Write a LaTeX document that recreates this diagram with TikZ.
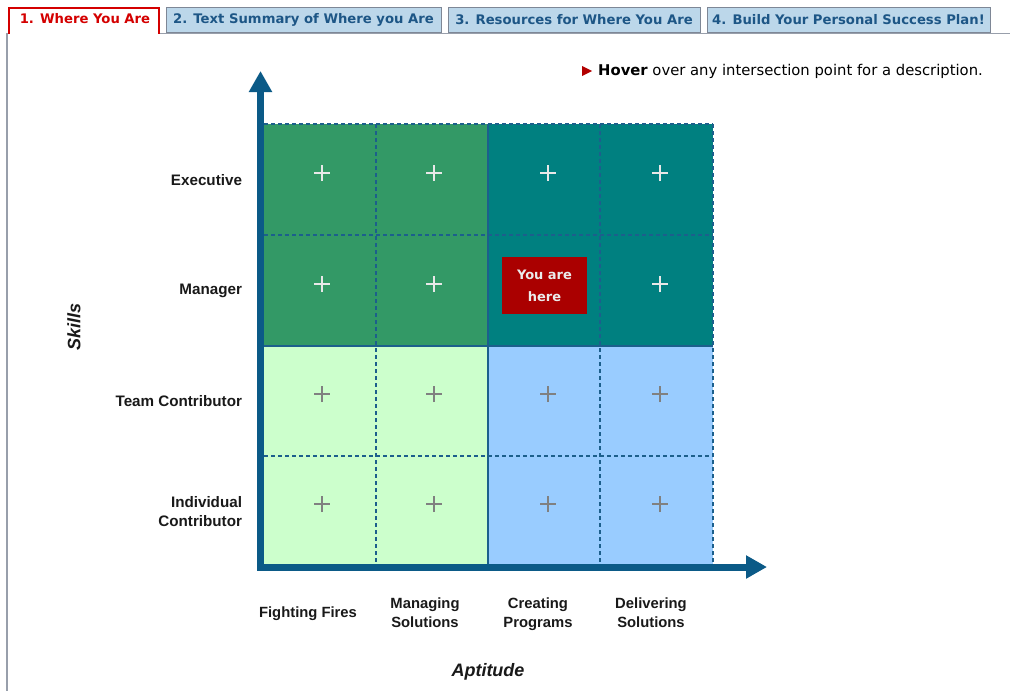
\documentclass[tikz,border=0pt]{standalone}
\usepackage{fontspec}
\setmainfont{Liberation Sans}
\newfontfamily\verd{DejaVu Sans}
\usetikzlibrary{arrows.meta}

\definecolor{axisblue}{HTML}{0B5A87}
\definecolor{gridblue}{HTML}{1C5F8C}
\definecolor{hiGreen}{HTML}{339966}
\definecolor{hiTeal}{HTML}{008080}
\definecolor{loGreen}{HTML}{CCFFCC}
\definecolor{loBlue}{HTML}{99CCFF}
\definecolor{tabfill}{HTML}{BCD7EA}
\definecolor{tabtext}{HTML}{1D5686}
\definecolor{tabedge}{HTML}{7E8796}
\definecolor{tabred}{HTML}{D40000}
\definecolor{herered}{HTML}{AA0000}
\definecolor{plusgray}{HTML}{808080}
\definecolor{pluslight}{HTML}{E8E8E8}

\tikzset{
  tabfont/.style={font=\verd\bfseries\fontsize{13.2}{15}\selectfont},
  tabbox/.style={tabfont, draw=tabedge, line width=1pt, fill=tabfill, minimum height=25pt,
    inner sep=0pt, text=tabtext},
  rowlabel/.style={anchor=east, align=right, text=black!90,
    font=\bfseries\fontsize{15.2}{19}\selectfont},
  collabel/.style={align=center, text=black!90,
    font=\bfseries\fontsize{14.8}{19}\selectfont},
  axistitle/.style={text=black!90, font=\bfseries\itshape\fontsize{18}{21}\selectfont},
  gridline/.style={draw=gridblue, line width=1.1pt, dash pattern=on 4pt off 3pt},
  splitline/.style={draw=gridblue, line width=2pt},
  plusmark/.style={line width=2.2pt},
  pluslo/.style={plusmark, draw=plusgray},
  plushi/.style={plusmark, draw=pluslight},
  axis/.style={draw=axisblue, line width=7pt, line join=miter,
    {Triangle[length=21pt,width=22pt]}-{Triangle[length=21pt,width=22pt]}}
}

\begin{document}
\begin{tikzpicture}[x=1pt,y=-1pt]
\useasboundingbox[fill=white] (0,0) rectangle (1010,691);

% ---- tab strip ----
\draw[tabedge!80, line width=1.2pt] (7,33.5) -- (7,691);
\draw[tabedge!80, line width=1.2pt] (159,33.5) -- (1010,33.5);
\draw[tabedge!80, line width=1.2pt] (6.4,33.5) -- (9,33.5);
\draw[tabred, line width=1.2pt, fill=white] (9,34) -- (9,8) -- (159,8) -- (159,34);
\node[tabfont, text=tabred] (tab1) at (85,19) {1. Where You Are};
\node[tabbox, minimum width=275pt] (tab2) at (303.5,19.5) {2. Text Summary of Where you Are};
\node[tabbox, minimum width=252pt] (tab3) at (574,19.5) {3. Resources for Where You Are};
\node[tabbox, minimum width=283pt] (tab4) at (848.5,19.5) {4. Build Your Personal Success Plan!};

% ---- hint line ----
\fill[herered!90!red] (582,66) -- (592,71) -- (582,76) -- cycle;
\node[anchor=west, inner sep=0pt, font=\verd\fontsize{14.8}{17}\selectfont] (hint) at (598,71)
  {\textbf{Hover} over any intersection point for a description.};

% ---- quadrants ----
\fill[hiGreen] (264,124) rectangle (488,346);
\fill[hiTeal]  (488,124) rectangle (713,346);
\fill[loGreen] (264,346) rectangle (488,564);
\fill[loBlue]  (488,346) rectangle (713,564);

% dashed cell lines
\foreach \x in {376,600,713} \draw[gridline] (\x,124) -- (\x,564);
\foreach \y in {124,235,456} \draw[gridline] (264,\y) -- (713,\y);
% quadrant borders
\draw[splitline] (488,124) -- (488,564);
\draw[splitline] (264,346) -- (713,346);

% ---- axes ----
\coordinate (ytip) at (260.5,71);
\coordinate (origin) at (260.5,567);
\coordinate (xtip) at (767,567);
\draw[axis] (ytip) -- (origin) -- (xtip);

% ---- intersection marks ----
\foreach \x/\n in {322/a,434/b,548/c,660/d}{
  \foreach \y/\m in {173/1,284/2,394/3,504/4}{
    \coordinate (p\n\m) at (\x,\y);
  }
}
\foreach \p in {pa1,pb1,pc1,pd1,pa2,pb2,pd2}
  \draw[plushi] ([xshift=-8pt]\p) -- ([xshift=8pt]\p) ([yshift=-8pt]\p) -- ([yshift=8pt]\p);
\foreach \p in {pa3,pb3,pc3,pd3,pa4,pb4,pc4,pd4}
  \draw[pluslo] ([xshift=-8pt]\p) -- ([xshift=8pt]\p) ([yshift=-8pt]\p) -- ([yshift=8pt]\p);

% ---- current position ----
\node[fill=herered, minimum width=85pt, minimum height=57pt, inner sep=0pt, align=center,
  text=white!92!black, font=\verd\bfseries\fontsize{13}{22}\selectfont] (here) at (544.5,285.5)
  {You are\\here};

% ---- row labels ----
\node[rowlabel] (executive) at (245.5,180.5) {Executive};
\node[rowlabel] (manager) at (245.5,291) {Manager};
\node[rowlabel] (team) at (245.5,401.5) {Team Contributor};
\node[rowlabel] (individual) at (245.5,513) {\strut Individual\\\strut Contributor};

% ---- column labels ----
\node[collabel] (fires) at (308,614) {\strut Fighting Fires};
\node[collabel] (managing) at (425,614.5) {\strut Managing\\\strut Solutions};
\node[collabel] (creating) at (538,614.5) {\strut Creating\\\strut Programs};
\node[collabel] (delivering) at (651,614.5) {\strut Delivering\\\strut Solutions};

% ---- axis titles ----
\node[axistitle] (aptitude) at (488,671.5) {Aptitude};
\node[axistitle, rotate=90] (skills) at (74,327) {Skills};
\end{tikzpicture}
\end{document}
